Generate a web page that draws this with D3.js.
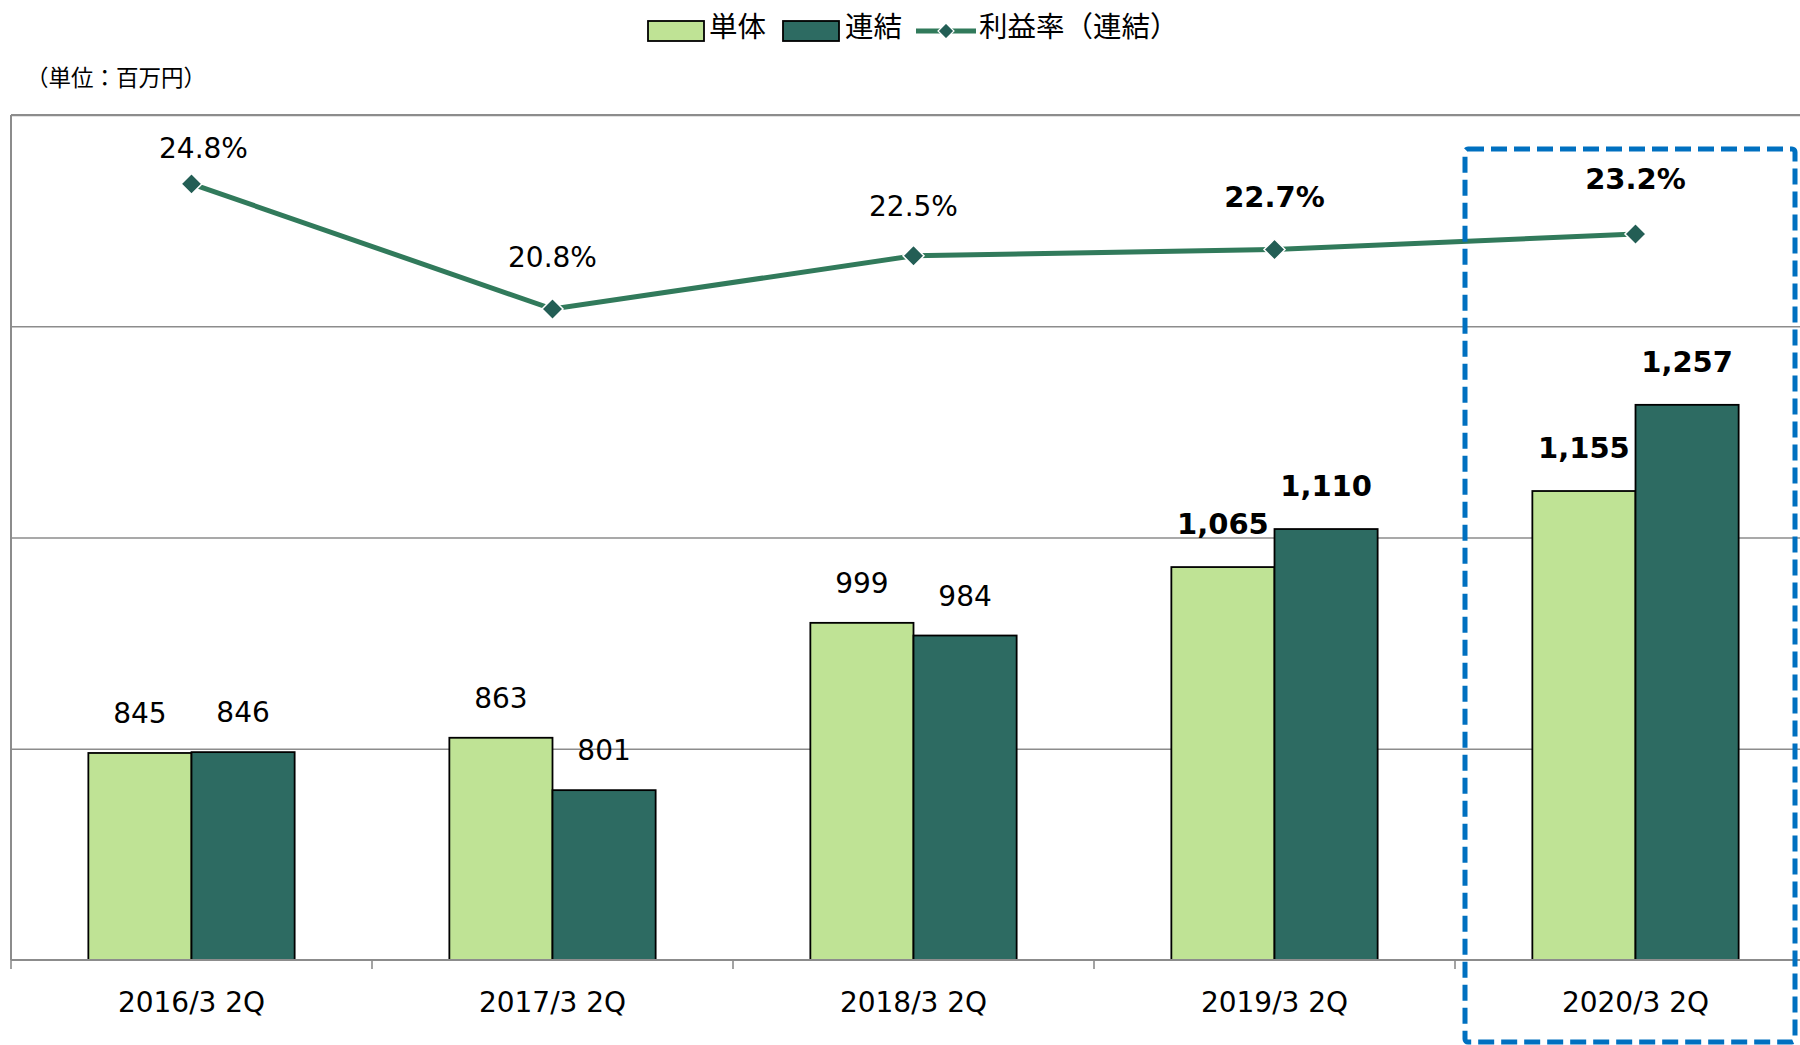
<!DOCTYPE html>
<html>
<head>
<meta charset="utf-8">
<script src="https://cdn.jsdelivr.net/npm/d3@7"></script>
<style>
  html, body { margin: 0; padding: 0; background: #fff; }
  svg { display: block; }
</style>
</head>
<body>
<svg id="chart" width="1800" height="1045"></svg>
<script>
// ---- data ----
const categories = ["2016/3 2Q", "2017/3 2Q", "2018/3 2Q", "2019/3 2Q", "2020/3 2Q"];
const seriesNames = ["単体", "連結"];
const tanTai = [845, 863, 999, 1065, 1155];
const renketsu = [846, 801, 984, 1110, 1257];
const profitRate = [24.8, 20.8, 22.5, 22.7, 23.2];
const barTicks = [600, 850, 1100, 1350, 1600];
const lineLegend = "利益率（連結）";
const unitLabel = "（単位：百万円）";

// ---- style ----
const boldFrom = 3;
const rateLabelDx = [12, 0, 0, 0, 0];
const rateLabelDy = [26, 42, 40, 43, 45];
const colLight = "#BFE395";
const colDark = "#2D6B62";
const colLine = "#317A5B";
const colMarker = "#235E55";
const colGrid = "#8C8C8C";
const numFont = "'DejaVu Sans', Verdana, sans-serif";
const cjkFont = "'Noto Sans CJK JP', 'Noto Sans', sans-serif";

const svg = d3.select("#chart");
const L = 11, R = 1816, T = 115, B = 960;

const x = d3.scaleBand().domain(categories).range([L, R]).paddingInner(0).paddingOuter(0);
const bw = x.bandwidth();
const gapHalf = bw * 0.75 / 3.5;
const x1 = d3.scaleBand().domain(seriesNames).range([gapHalf, bw - gapHalf]).padding(0);
const y = d3.scaleLinear().domain([barTicks[0], barTicks[barTicks.length - 1]]).range([B, T]);
const y2 = d3.scaleLinear().domain([0, 27]).range([B, T]);

// gridlines
const grid = svg.append("g").attr("transform", `translate(${L},0)`)
  .call(d3.axisLeft(y).tickValues(barTicks.slice(1)).tickSize(-(R - L)).tickFormat(""));
grid.select(".domain").remove();
grid.selectAll(".tick line").attr("stroke", colGrid).attr("stroke-width", 1.6);

// left border
svg.append("line").attr("x1", L).attr("x2", L).attr("y1", T).attr("y2", B)
  .attr("stroke", colGrid).attr("stroke-width", 2);

// bars
const data = categories.map((c, i) => ({ c, i, vals: [tanTai[i], renketsu[i]] }));
const gCat = svg.append("g").selectAll("g").data(data).join("g")
  .attr("transform", d => `translate(${x(d.c)},0)`);
gCat.selectAll("rect").data(d => d.vals.map((v, k) => ({ v, k, i: d.i }))).join("rect")
  .attr("x", d => x1(seriesNames[d.k]))
  .attr("width", x1.bandwidth())
  .attr("y", d => y(d.v))
  .attr("height", d => B - y(d.v))
  .attr("fill", d => d.k === 0 ? colLight : colDark)
  .attr("stroke", "#000").attr("stroke-width", 1.8);

gCat.selectAll("text").data(d => d.vals.map((v, k) => ({ v, k, i: d.i }))).join("text")
  .attr("x", d => x1(seriesNames[d.k]) + x1.bandwidth() / 2)
  .attr("y", d => y(d.v) - (d.i >= boldFrom ? 33 : 30))
  .attr("text-anchor", "middle")
  .attr("font-family", numFont)
  .attr("font-size", d => d.i >= boldFrom ? 29 : 28)
  .attr("font-weight", d => d.i >= boldFrom ? "bold" : "normal")
  .attr("fill", "#000")
  .text(d => d3.format(",")(d.v));

// x axis
const xAxis = svg.append("g").attr("transform", `translate(0,${B})`)
  .call(d3.axisBottom(x).tickSize(0).tickPadding(0));
xAxis.select(".domain").remove();
xAxis.selectAll(".tick text")
  .attr("y", 52).attr("dy", 0)
  .attr("font-family", numFont).attr("font-size", 28).attr("fill", "#000");
svg.append("line").attr("x1", L).attr("x2", R).attr("y1", B).attr("y2", B)
  .attr("stroke", colGrid).attr("stroke-width", 2.2);
svg.append("g").selectAll("line").data(categories).join("line")
  .attr("x1", d => x(d)).attr("x2", d => x(d))
  .attr("y1", B).attr("y2", B + 9)
  .attr("stroke", colGrid).attr("stroke-width", 1.6);

// top border
svg.append("line").attr("x1", L).attr("x2", R).attr("y1", T).attr("y2", T)
  .attr("stroke", colGrid).attr("stroke-width", 2);

// line
const cx = c => x(c) + bw / 2;
svg.append("path")
  .datum(profitRate)
  .attr("d", d3.line().x((d, i) => cx(categories[i])).y(d => y2(d)))
  .attr("fill", "none").attr("stroke", colLine).attr("stroke-width", 5);

const dm = 10.5;
svg.append("g").selectAll("path").data(profitRate).join("path")
  .attr("transform", (d, i) => `translate(${cx(categories[i])},${y2(d)})`)
  .attr("d", `M0,${-dm}L${dm},0L0,${dm}L${-dm},0Z`)
  .attr("fill", colMarker).attr("stroke", "#fff").attr("stroke-width", 1.5);

svg.append("g").selectAll("text").data(profitRate).join("text")
  .attr("x", (d, i) => cx(categories[i]) + rateLabelDx[i])
  .attr("y", (d, i) => y2(d) - rateLabelDy[i])
  .attr("text-anchor", "middle")
  .attr("font-family", numFont)
  .attr("font-size", (d, i) => i >= boldFrom ? 29 : 28)
  .attr("font-weight", (d, i) => i >= boldFrom ? "bold" : "normal")
  .attr("fill", "#000")
  .text(d => d.toFixed(1) + "%");

// highlight box
svg.append("rect")
  .attr("x", 1465).attr("y", 149).attr("width", 330).attr("height", 893)
  .attr("rx", 3)
  .attr("fill", "none").attr("stroke", "#0070C0").attr("stroke-width", 5)
  .attr("stroke-dasharray", "16,7");

// unit label
svg.append("text").attr("x", 26).attr("y", 86)
  .attr("font-family", cjkFont).attr("font-size", 22.5).attr("fill", "#000")
  .text(unitLabel);

// legend
const lg = svg.append("g");
lg.append("rect").attr("x", 648).attr("y", 21).attr("width", 56).attr("height", 20)
  .attr("fill", colLight).attr("stroke", "#000").attr("stroke-width", 1.8);
lg.append("text").attr("x", 709).attr("y", 37).attr("font-family", cjkFont).attr("font-size", 28.5)
  .attr("fill", "#000").text(seriesNames[0]);
lg.append("rect").attr("x", 783).attr("y", 21).attr("width", 56).attr("height", 20)
  .attr("fill", colDark).attr("stroke", "#000").attr("stroke-width", 1.8);
lg.append("text").attr("x", 845).attr("y", 37).attr("font-family", cjkFont).attr("font-size", 28.5)
  .attr("fill", "#000").text(seriesNames[1]);
lg.append("line").attr("x1", 916).attr("x2", 976).attr("y1", 31).attr("y2", 31)
  .attr("stroke", colLine).attr("stroke-width", 5);
lg.append("path").attr("transform", "translate(946,31)")
  .attr("d", "M0,-8L8,0L0,8L-8,0Z").attr("fill", colMarker).attr("stroke", "#fff").attr("stroke-width", 1.2);
lg.append("text").attr("x", 979).attr("y", 37).attr("font-family", cjkFont).attr("font-size", 28.5)
  .attr("fill", "#000").text(lineLegend);
</script>
</body>
</html>
